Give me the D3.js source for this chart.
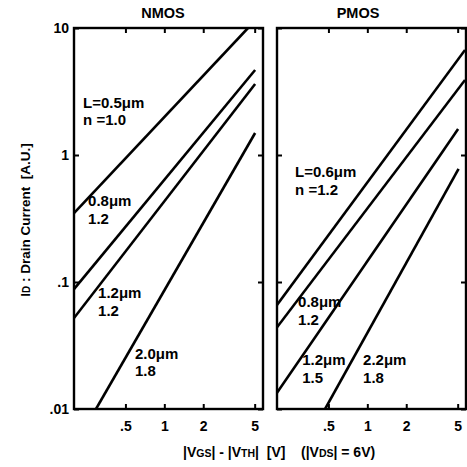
<!DOCTYPE html>
<html>
<head>
<meta charset="utf-8">
<script src="https://cdn.jsdelivr.net/npm/d3@7"></script>
<style>
  html, body { margin: 0; padding: 0; background: #fff; }
  text { font-family: "Liberation Sans", Arial, Helvetica, sans-serif; font-weight: bold; fill: #000; }
</style>
</head>
<body>
<svg id="chart" width="467" height="467"></svg>
<script>
// ---- data ----
const xTicks = [0.5, 1, 2, 5];
const xTickLabels = [".5", "1", "2", "5"];
const yTicks = [0.01, 0.1, 1, 10];
const yTickLabels = [".01", ".1", "1", "10"];
const xDomain = [0.2, 5.8];
const yDomain = [0.01, 10];

const panelTitles = ["NMOS", "PMOS"];

// NMOS curves: start/end points [V, I]
const nmosLength = ["L=0.5μm", "0.8μm", "1.2μm", "2.0μm"];
const nmosN = ["n =1.0", "1.2", "1.2", "1.8"];
const nmosV = [[0.2, 4.44], [0.2, 5.04], [0.2, 5.04], [0.296, 5.04]];
const nmosI = [[0.349, 10], [0.088, 4.67], [0.052, 3.62], [0.01, 1.49]];

// PMOS curves
const pmosLength = ["L=0.6μm", "0.8μm", "1.2μm", "2.2μm"];
const pmosN = ["n =1.2", "1.2", "1.5", "1.8"];
const pmosV = [[0.2, 5.7], [0.2, 5.7], [0.2, 5.04], [0.471, 5.08]];
const pmosI = [[0.066, 6.71], [0.044, 3.90], [0.0134, 1.60], [0.01, 0.776]];

// label anchor positions in data units [V, I]
const nmosLabelV = [0.235, 0.257, 0.307, 0.593];
const nmosLabelI = [2.35, 0.396, 0.0748, 0.0248];
const pmosLabelV = [0.276, 0.291, 0.313, 0.927];
const pmosLabelI = [0.671, 0.0635, 0.0222, 0.0222];

// ---- layout ----
const svg = d3.select("#chart");
const plotTop = 28, plotBottom = 409;
const panels = [
  { x0: 74, x1: 263, tx: 163, title: panelTitles[0], L: nmosLength, N: nmosN, V: nmosV, I: nmosI, lv: nmosLabelV, li: nmosLabelI, leftLabels: true },
  { x0: 277, x1: 466, tx: 358, title: panelTitles[1], L: pmosLength, N: pmosN, V: pmosV, I: pmosI, lv: pmosLabelV, li: pmosLabelI, leftLabels: false }
];

const y = d3.scaleLog().domain(yDomain).range([plotBottom, plotTop]);

panels.forEach((p, pi) => {
  const x = d3.scaleLog().domain(xDomain).range([p.x0, p.x1]);
  const g = svg.append("g");

  const clipId = "clip" + pi;
  svg.append("clipPath").attr("id", clipId)
    .append("rect").attr("x", p.x0).attr("y", plotTop).attr("width", p.x1 - p.x0).attr("height", plotBottom - plotTop);

  // curves
  const line = d3.line().x(d => x(d[0])).y(d => y(d[1]));
  p.V.forEach((vs, i) => {
    const pts = vs.map((v, j) => [v, p.I[i][j]]);
    g.append("path").attr("d", line(pts))
      .attr("clip-path", `url(#${clipId})`)
      .attr("fill", "none").attr("stroke", "#000").attr("stroke-width", 2.6);
  });

  // axes with inward ticks
  const tickFmt = (arr, labels) => (d) => labels[arr.indexOf(d)];
  const axL = d3.axisLeft(y).tickValues(yTicks).tickSizeInner(-5).tickSizeOuter(0).tickFormat(tickFmt(yTicks, yTickLabels)).tickPadding(5);
  const axR = d3.axisRight(y).tickValues(yTicks).tickSizeInner(-5).tickSizeOuter(0).tickFormat(() => "");
  const axT = d3.axisTop(x).tickValues(xTicks).tickSizeInner(-5).tickSizeOuter(0).tickFormat(() => "");
  const axB = d3.axisBottom(x).tickValues(xTicks).tickSizeInner(-5).tickSizeOuter(0).tickFormat(tickFmt(xTicks, xTickLabels)).tickPadding(12);

  const gl = g.append("g").attr("transform", `translate(${p.x0},0)`).call(axL);
  if (!p.leftLabels) gl.selectAll("text").remove();
  g.append("g").attr("transform", `translate(${p.x1},0)`).call(axR);
  g.append("g").attr("transform", `translate(0,${plotTop})`).call(axT);
  g.append("g").attr("transform", `translate(0,${plotBottom})`).call(axB);

  g.selectAll(".domain").remove();
  g.selectAll(".tick line").attr("stroke", "#000").attr("stroke-width", 2);
  g.selectAll(".tick text").attr("font-size", 14).attr("font-weight", "bold")
    .attr("font-family", '"Liberation Sans", Arial, sans-serif').attr("fill", "#000");

  // frame
  g.append("rect").attr("x", p.x0).attr("y", plotTop).attr("width", p.x1 - p.x0).attr("height", plotBottom - plotTop)
    .attr("fill", "none").attr("stroke", "#000").attr("stroke-width", 2.4);

  // title
  g.append("text").attr("x", p.tx).attr("y", 18).attr("text-anchor", "middle")
    .attr("font-size", 14.5).text(p.title);

  // curve labels
  p.L.forEach((lab, i) => {
    const tx = x(p.lv[i]), ty = y(p.li[i]);
    const t = g.append("text").attr("x", tx).attr("y", ty).attr("font-size", 15);
    t.append("tspan").attr("x", tx).text(lab);
    t.append("tspan").attr("x", tx).attr("dy", 17.5).text(p.N[i]);
  });
});

// x-axis title
const xt = svg.append("text").attr("x", 183).attr("y", 457).attr("font-size", 14).style("white-space", "pre");
xt.append("tspan").text("|V");
xt.append("tspan").attr("font-size", 10.5).text("GS");
xt.append("tspan").text("| - |V");
xt.append("tspan").attr("font-size", 10.5).text("TH");
xt.append("tspan").text("|  [V]    (|V");
xt.append("tspan").attr("font-size", 10.5).text("DS");
xt.append("tspan").text("| = 6V)");

// y-axis title
const yt = svg.append("text").attr("transform", "translate(30,220) rotate(-90)")
  .attr("text-anchor", "middle").attr("font-size", 13.5).style("white-space", "pre");
yt.append("tspan").text("I");
yt.append("tspan").attr("font-size", 10).text("D");
yt.append("tspan").text(" : Drain Current  [A.U.]");
</script>
</body>
</html>
